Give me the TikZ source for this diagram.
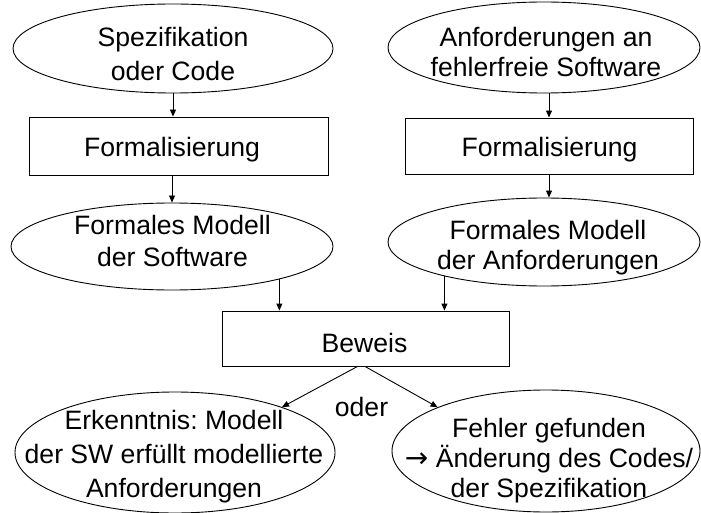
\documentclass[tikz,border=0pt]{standalone}
\usepackage{fontspec}
\setmainfont{Liberation Sans}
\newfontfamily\arrowfont{DejaVu Sans}
\frenchspacing
\usetikzlibrary{shapes.geometric,arrows.meta}

\begin{document}
\begin{tikzpicture}[
  x=1pt, y=-1pt,
  line width=0.9pt,
  ell/.style={draw, ellipse, inner sep=0pt},
  box/.style={draw, rectangle, inner sep=0pt},
  txt/.style={inner sep=0pt, align=center, anchor=north,
              font=\fontsize{26.6}{30}\selectfont},
  arr/.style={-{Triangle[length=7pt,width=6pt]}},
]
\useasboundingbox (0,0) rectangle (701,513);

% shapes
\node[ell, minimum width=320pt, minimum height=89pt] (e1) at (173,48.5) {};
\node[ell, minimum width=312pt, minimum height=91pt] (e2) at (544,47.5) {};
\node[box, minimum width=299pt, minimum height=58pt] (b1) at (178.5,146) {};
\node[box, minimum width=288pt, minimum height=56pt] (b2) at (549,146) {};
\node[ell, minimum width=322pt, minimum height=87pt] (e3) at (172,246.5) {};
\node[ell, minimum width=312pt, minimum height=88pt] (e4) at (544,242) {};
\node[box, minimum width=287pt, minimum height=55pt] (bw) at (365.5,338.5) {};
\node[ell, minimum width=320pt, minimum height=121pt] (e5) at (175,452.5) {};
\node[ell, minimum width=308pt, minimum height=122pt] (e6) at (546,451) {};

% texts
\node[txt, font=\fontsize{26.6}{34}\selectfont] (t1) at (173,27) {Spezifikation\\oder Code};
\node[txt] (t2) at (546,27) {Anforderungen an\\fehlerfreie Software};
\node[txt] (t3) at (172,137) {Formalisierung};
\node[txt] (t4) at (549.5,137) {Formalisierung};
\node[txt, font=\fontsize{26.6}{32}\selectfont] (t5) at (172.5,215) {Formales Modell\\der Software};
\node[txt] (t6) at (548,220) {Formales Modell\\der Anforderungen};
\node[txt] (t7) at (364.5,333) {Beweis};
\node[txt, font=\fontsize{26.6}{34}\selectfont] (t8) at (174,410) {Erkenntnis: Modell\\der SW erfüllt modellierte\\Anforderungen};
\node[txt] (t9) at (549,418) {Fehler gefunden\\{\arrowfont\fontsize{28}{30}\selectfont →} Änderung des Codes/\\der Spezifikation};
\node[txt] (oder) at (361.5,397) {oder};

% connectors
\draw[arr] (e1.south) -- (e1.south |- b1.north);
\draw[arr] (b1.south -| e3.north) -- (e3.north);
\draw[arr] (b2.north |- e2.south) -- (b2.north);
\draw[arr] (b2.south) -- (b2.south |- e4.north);
\draw[arr] (e3.-17) -- (e3.-17 |- bw.north);
\draw[arr] (e4.199) -- (e4.199 |- bw.north);
\draw[arr] ([xshift=-8pt]bw.south) -- (e5.23);
\draw[arr] ([xshift=-0.5pt]bw.south) -- (e6.158);
\end{tikzpicture}
\end{document}
